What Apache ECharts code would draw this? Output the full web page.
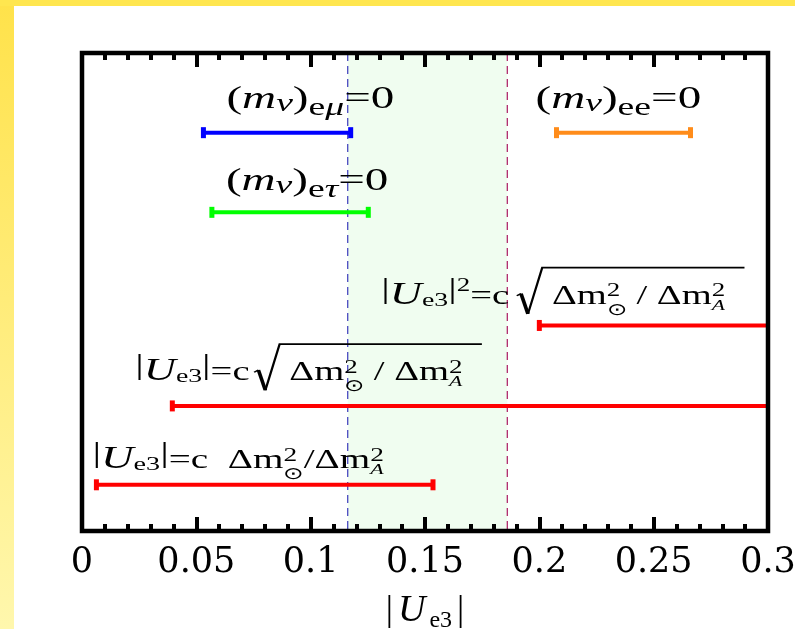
<!DOCTYPE html>
<html>
<head>
<meta charset="utf-8">
<script src="https://cdn.jsdelivr.net/npm/echarts@6/dist/echarts.min.js"></script>
<style>
  html, body { margin: 0; padding: 0; background: #fff; }
  #chart_container { width: 795px; height: 629px; }
</style>
</head>
<body>
<div id="chart_container"></div>
<script>
"use strict";

// allowed |Ue3| ranges (blue, orange, green, 3x red)
const rowNames  = ['m_emu', 'm_ee', 'm_etau', 'ue3_sq', 'ue3_sqrt', 'ue3_lin'];
const rangeLow  = [0.0531, 0.2075, 0.0568, 0.200, 0.0395, 0.0063];
const rangeHigh = [0.1175, 0.2661, 0.1252, 0.300, 0.300, 0.1535];
const rowLevel  = [5, 5, 4, 2.58, 1.57, 0.58];

// shaded band with dashed edges
const bandLow  = [0.1162];
const bandHigh = [0.186];

const tickLabels = ['0', '0.05', '0.1', '0.15', '0.2', '0.25', '0.3'];
const xMin = 0, xMax = 0.3, xStep = 0.05;

const rowColors = ['#0000ff', '#ff8c1a', '#00ff00', '#ff0000', '#ff0000', '#ff0000'];
// label start relative to left end of its bar (px): [dx, baseline dy]
const labelShift = [[23, -23], [-21, -23], [14, -21], [-158, -20], [-37, -24], [-4, -15]];

// ---- label content, pieces: t text, s size, i italic, dy shift (em), k stack on previous, g gap
const sub8 = (t, it) => ({ t: t, s: 0.8, i: it, dy: 0.22 });
const massLabel = (subs) => [{ t: '(' }, { t: 'm', i: 1 }, { t: 'ν', s: 0.8, i: 1, dy: 0.09 }, { t: ')' }].concat(subs, [{ t: '=0' }]);
const absU = [{ t: '|', s: 1.1, dy: -0.22 }, { t: 'U', s: 1.15, i: 1 }, { t: 'e3', s: 0.72, dy: 0.06 }, { t: '|', s: 1.1, dy: -0.22 }];
const ratio = (sep, lead) => [{ t: lead + 'Δm' }, { t: '2', s: 0.7, dy: -0.3 }, { t: '⊙', s: 0.62, dy: 0.38, k: 1 },
  { t: sep }, { t: 'Δm' }, { t: '2', s: 0.7, dy: -0.3 }, { t: 'A', s: 0.56, i: 1, dy: 0.2, k: 1 }];

const labelPieces = [
  massLabel([sub8('e'), sub8('μ', 1)]),
  massLabel([sub8('ee')]),
  massLabel([sub8('e'), sub8('τ', 1)]),
  absU.concat([{ t: '2', s: 0.7, dy: -0.48 }, { t: '=c' }, { g: 0.2 }, { rad: 1 }], ratio(' / ', ' '), [{ rad: 0 }]),
  absU.concat([{ t: '=c' }, { g: 0.12 }, { rad: 1 }], ratio(' / ', ' '), [{ rad: 0 }]),
  absU.concat([{ t: '=c' }, { g: 0.25 }], ratio('/', ' '))
];
const labelFont  = [31, 31, 31, 27, 27, 27];
const labelScale = [1.52, 1.52, 1.52, 1.43, 1.43, 1.45];

const MID = 0.32;
const measureCtx = document.createElement('canvas').getContext('2d');
const fontOf = (size, it) => (it ? 'italic ' : '') + size + 'px "Liberation Serif", serif';

let typeset = (pieces, x0, baseY, F, S) => {
    const kids = [];
    let x = 0, prevX = 0, prevW = 0, radX = 0;
    pieces.forEach(p => {
        if (p.g) { x += p.g * F; return; }
        if (p.rad === 1) { radX = x; x += 0.66 * F; return; }
        if (p.rad === 0) {
            const end = x + 0.5 * F;
            const q = radX;
            kids.push({ type: 'polyline', shape: { points: [[q, -0.36 * F], [q + 0.11 * F, -0.44 * F]] },
                style: { stroke: '#000', lineWidth: 1.4, fill: null } });
            kids.push({ type: 'polyline', shape: { points: [[q + 0.11 * F, -0.44 * F], [q + 0.29 * F, 0.31 * F]] },
                style: { stroke: '#000', lineWidth: 2.6, fill: null } });
            kids.push({ type: 'polyline', shape: { points: [[q + 0.29 * F, 0.31 * F], [q + 0.66 * F, -1.4 * F], [end, -1.4 * F]] },
                style: { stroke: '#000', lineWidth: 1.6, fill: null } });
            return;
        }
        const size = (p.s || 1) * F;
        const font = fontOf(size, p.i);
        measureCtx.font = font;
        const w = measureCtx.measureText(p.t).width;
        let px = x;
        if (p.k) { px = prevX; x = prevX + Math.max(prevW, w); }
        else { prevX = x; prevW = w; x += w; }
        kids.push({ type: 'text', x: px, y: (p.dy || 0) * F - MID * size,
            style: { text: p.t, font: font, fill: '#000', align: 'left', verticalAlign: 'middle' } });
    });
    return { type: 'group', x: x0, y: baseY, scaleX: S, children: kids };
}

let renderRange = (params, api) => {
    const i = params.dataIndex;
    const lv = api.value(2);
    const a = api.coord([api.value(0), lv]);
    const b = api.coord([api.value(1), lv]);
    const col = rowColors[i];
    const kids = [{ type: 'line', shape: { x1: a[0], y1: a[1], x2: b[0], y2: b[1] }, style: { stroke: col, lineWidth: 4 } }];
    if (api.value(0) > xMin) kids.push({ type: 'rect', shape: { x: a[0] - 2.5, y: a[1] - 5.5, width: 5, height: 11 }, style: { fill: col } });
    if (api.value(1) < xMax) kids.push({ type: 'rect', shape: { x: b[0] - 2.5, y: b[1] - 5.5, width: 5, height: 11 }, style: { fill: col } });
    kids.push(typeset(labelPieces[i], a[0] + labelShift[i][0], a[1] + labelShift[i][1], labelFont[i], labelScale[i]));
    return { type: 'group', children: kids };
}

// green band between the two dashed verticals
let renderBand = (params, api) => {
    const cs = params.coordSys;
    const a = api.coord([api.value(0), 0])[0];
    const b = api.coord([api.value(1), 0])[0];
    const dash = (x, col) => ({ type: 'line', shape: { x1: x, y1: cs.y, x2: x, y2: cs.y + cs.height },
        style: { stroke: col, lineWidth: 1.3, lineDash: [8, 5] } });
    return { type: 'group', children: [
        { type: 'rect', shape: { x: a, y: cs.y, width: b - a, height: cs.height }, style: { fill: '#f0fdf0' } },
        dash(a, '#4848c0'), dash(b, '#b02c6c')
    ] };
}

const rangeData = rangeLow.map((v, i) => ({ name: rowNames[i], value: [v, rangeHigh[i], rowLevel[i]] }));
const bandData = bandLow.map((v, i) => [v, bandHigh[i]]);

const tickStyle = { inside: true, length: 14, lineStyle: { color: '#000', width: 4 } };
const minorStyle = { show: true, splitNumber: 5, length: 7, lineStyle: { color: '#000', width: 4 } };

const optEchart = {
    animation: false,
    backgroundColor: '#fff',
    grid: { left: 82, right: 27, top: 53, bottom: 98, outerBoundsMode: 'none', containLabel: false,
        show: true, borderColor: '#000', borderWidth: 4.5, z: 10 },
    xAxis: [{
        type: 'value', min: xMin, max: xMax, interval: xStep, position: 'bottom', z: 11,
        axisLine: { show: false }, splitLine: { show: false },
        axisTick: tickStyle, minorTick: minorStyle,
        axisLabel: { margin: 14, fontFamily: 'DejaVu Serif', fontSize: 35, color: '#000',
            formatter: v => tickLabels[Math.round(v / xStep)] },
        name: '{b||}{i|U}{s|e3}{b||}', nameLocation: 'middle', nameGap: 58,
        nameTextStyle: { color: '#000', rich: {
            b: { fontFamily: 'Liberation Serif', fontSize: 36, lineHeight: 44, padding: [0, 2] },
            i: { fontFamily: 'Liberation Serif', fontStyle: 'italic', fontSize: 38, lineHeight: 44, padding: [0, 2, 0, 3] },
            s: { fontFamily: 'Liberation Serif', fontSize: 24, lineHeight: 24, verticalAlign: 'bottom', padding: [0, 3, 0, 2] }
        } }
    }, {
        type: 'value', min: xMin, max: xMax, interval: xStep, position: 'top', z: 11,
        axisLine: { show: false }, splitLine: { show: false },
        axisTick: tickStyle, minorTick: minorStyle, axisLabel: { show: false }
    }],
    yAxis: { type: 'value', min: 0, max: 6, show: false },
    graphic: [
        { type: 'rect', left: 0, top: 0, silent: true, shape: { width: 14, height: 629 },
          style: { fill: new echarts.graphic.LinearGradient(0, 0, 0, 1, [{ offset: 0, color: '#ffe24a' }, { offset: 1, color: '#fff7ad' }]) } },
        { type: 'rect', left: 0, top: 0, silent: true, shape: { width: 795, height: 6 }, style: { fill: '#ffe64f' } }
    ],
    series: [{
        type: 'custom', z: 1, silent: true, renderItem: renderBand,
        encode: { x: [0, 1] }, data: bandData
    }, {
        type: 'custom', z: 3, renderItem: renderRange,
        encode: { x: [0, 1], y: 2 }, data: rangeData
    }]
};

let pageLoaded = () => {
    let chartDom = document.getElementById('chart_container');
    let myChart = echarts.init(chartDom);
    myChart.setOption(optEchart);
}

window.addEventListener('load', pageLoaded, false);
</script>
</body>
</html>
